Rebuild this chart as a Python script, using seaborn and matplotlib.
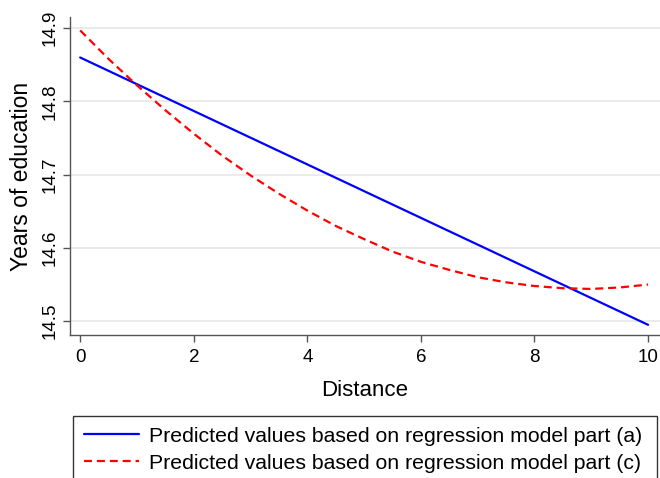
import numpy as np
import pandas as pd
import seaborn as sns
import matplotlib.pyplot as plt

# values
distance_a = [0, 10]
pred_a = [14.860, 14.495]

distance_c = [0, 0.5, 1, 1.5, 2, 2.5, 3, 3.5, 4, 4.5, 5,
              5.5, 6, 6.5, 7, 7.5, 8, 8.5, 9, 9.5, 10]
pred_c = [14.897, 14.858, 14.822, 14.788, 14.756, 14.726, 14.699, 14.674, 14.651, 14.630, 14.612,
          14.595, 14.581, 14.570, 14.560, 14.553, 14.548, 14.545, 14.544, 14.546, 14.550]

label_a = "Predicted values based on regression model part (a)"
label_c = "Predicted values based on regression model part (c)"

df_a = pd.DataFrame({"Distance": distance_a, "Years of education": pred_a})
df_c = pd.DataFrame({"Distance": distance_c, "Years of education": pred_c})

sns.set_theme(style="white")
plt.rcParams["font.family"] = ["Liberation Sans", "DejaVu Sans"]
plt.rcParams["text.color"] = "black"
plt.rcParams["axes.labelcolor"] = "black"
plt.rcParams["xtick.labelcolor"] = "black"
plt.rcParams["ytick.labelcolor"] = "black"

fig = plt.figure(figsize=(6.6, 4.78), dpi=100)
ax = fig.add_axes([0.106, 0.299, 0.894, 0.665])

sns.lineplot(data=df_a, x="Distance", y="Years of education", color="#0000ff",
             linewidth=1.6, label=label_a, ax=ax)
sns.lineplot(data=df_c, x="Distance", y="Years of education", color="#ff0000",
             linewidth=1.6, linestyle=(0, (3.6, 2.2)), label=label_c, ax=ax)

ax.set_xlim(-0.18, 10.21)
ax.set_ylim(14.481, 14.915)
ax.set_xticks([0, 2, 4, 6, 8, 10])
ax.set_yticks([14.5, 14.6, 14.7, 14.8, 14.9])
ax.set_yticklabels(["14.5", "14.6", "14.7", "14.8", "14.9"], rotation=90, va="center")
ax.yaxis.grid(True, color="#e8e8e8", linewidth=1.2)
ax.tick_params(axis="both", direction="out", length=5, width=1, color="#555555",
               labelsize=13.5, left=True, bottom=True, pad=3)
ax.tick_params(axis="x", pad=5)
ax.set_xlabel("Distance", fontsize=16, labelpad=10)
ax.set_ylabel("Years of education", fontsize=16.5, labelpad=6.5)
for side in ["top", "right"]:
    ax.spines[side].set_visible(False)
for side in ["left", "bottom"]:
    ax.spines[side].set_color("#555555")
    ax.spines[side].set_linewidth(1)

handles, labels = ax.get_legend_handles_labels()
ax.get_legend().remove()
leg = fig.legend(handles, labels, loc="upper left", mode="expand",
                 bbox_to_anchor=(0.1106, 0.0, 0.8848, 0.1297),
                 bbox_transform=fig.transFigure, fontsize=15.3, frameon=True,
                 fancybox=False, edgecolor="black", handlelength=2.6,
                 borderpad=0.5, borderaxespad=0, labelspacing=0.38, handletextpad=0.5)
leg.get_frame().set_linewidth(1)

fig.savefig("out.png", dpi=100)
